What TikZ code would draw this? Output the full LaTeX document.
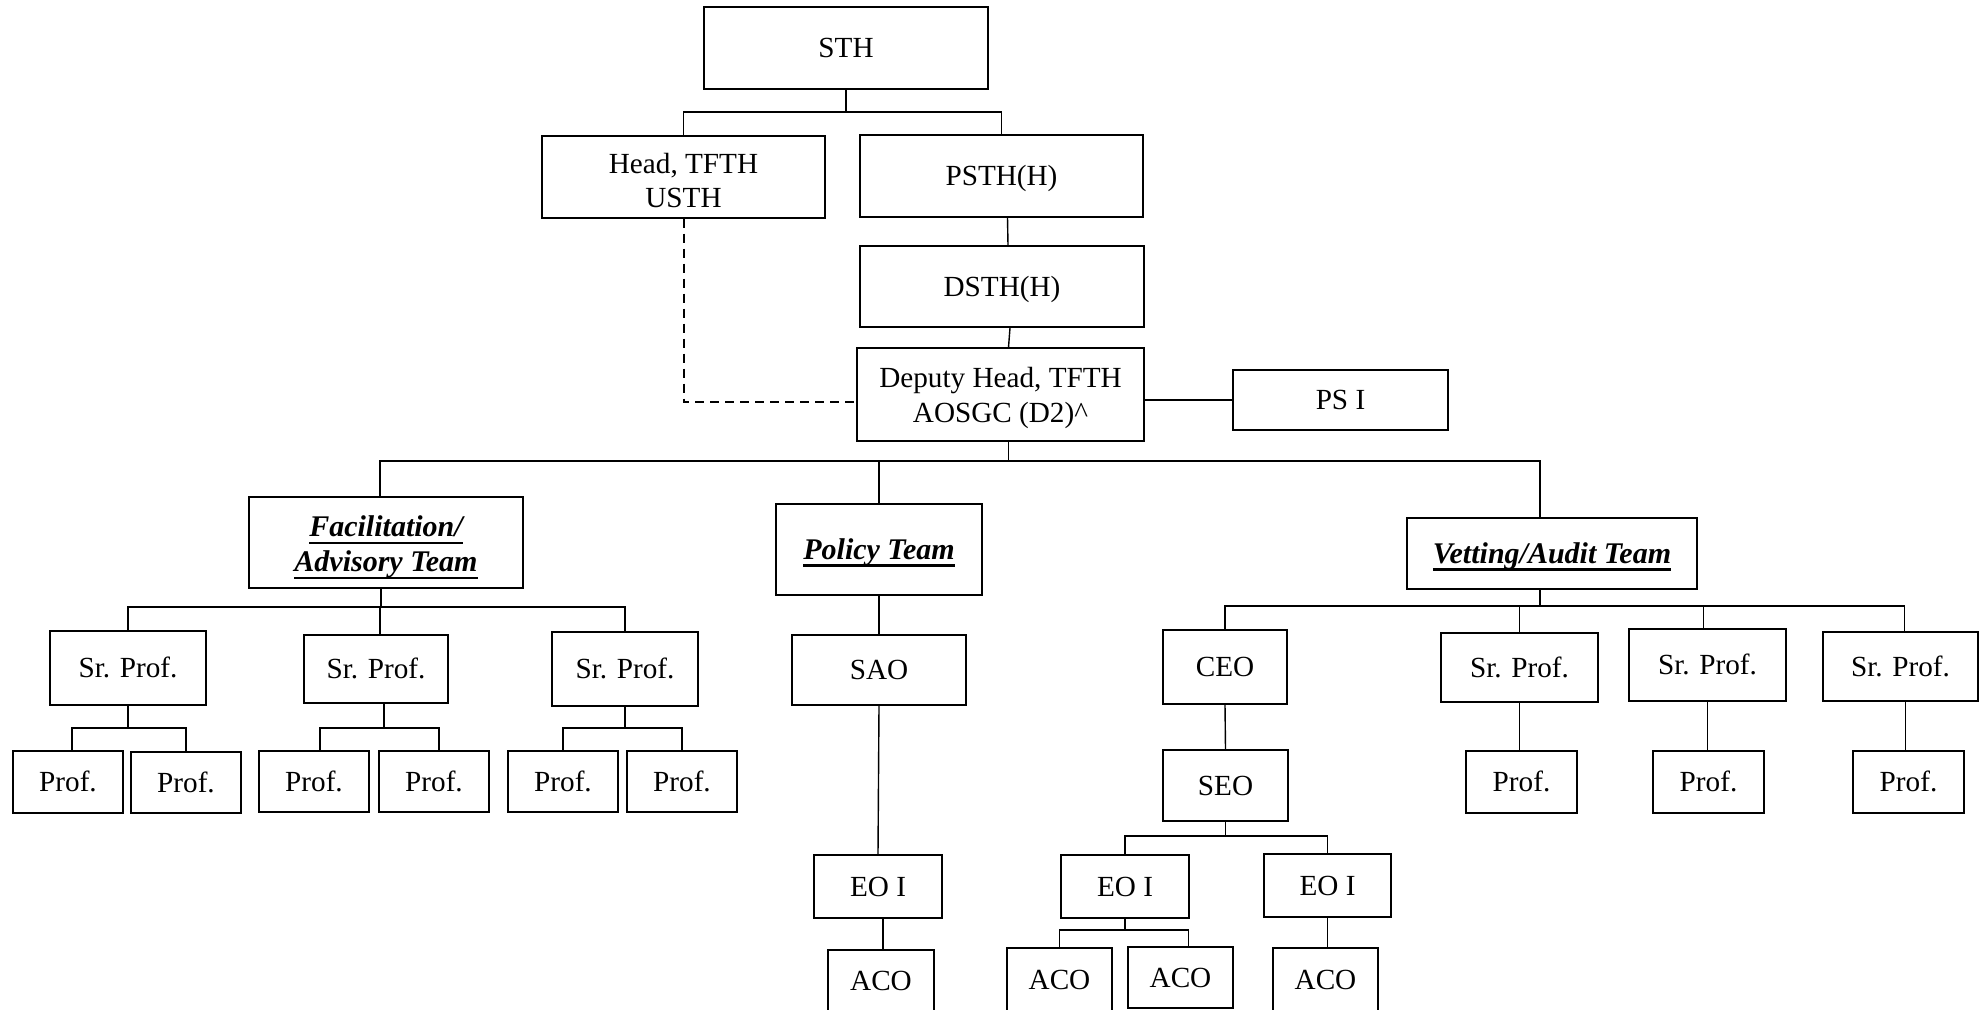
\documentclass[tikz,border=0pt]{standalone}
\usepackage{fontspec}
\setmainfont{Liberation Serif}
\newsavebox\tmphdbox
\newcommand\teamhd[1]{\sbox\tmphdbox{\bfseries\itshape #1}\rlap{\rule[-3.6pt]{\wd\tmphdbox}{1.1pt}}\usebox\tmphdbox}
\newcommand\twoln[3]{\vbox{\baselineskip=#1\lineskiplimit=-100pt\lineskip=0pt\halign{\hfil##\hfil\cr#2\cr#3\cr}}}
\newcommand\orgbox[7][]{\node[box,#1,minimum width={(#5-#3)*0.5pt},minimum height={(#6-#4)*0.5pt}] (#2) at ({(#3+#5)/2},{(#4+#6)/2}) {#7};}
\begin{document}
\begin{tikzpicture}[x=0.5pt,y=-0.5pt,line width=0.7pt,
  box/.style={draw,rectangle,line width=0.75pt,inner sep=0pt,text height=9.67pt,text depth=0pt,font=\fontsize{14.6}{17}\selectfont},
  hd/.style={font=\fontsize{15}{17.5}\selectfont,text height=9.93pt},
  link/.style={draw},
  dlink/.style={draw,line width=1pt,dash pattern=on 4.5pt off 3pt}]
\useasboundingbox (0,0) rectangle (1982,1010);
% top
\orgbox{sth}{704}{7}{988}{89}{STH}
\orgbox[text height=30.2pt]{head}{542}{136}{825}{218}{\twoln{16.9pt}{Head, TFTH}{USTH}}
\orgbox{psth}{860}{135}{1143}{217}{PSTH(H)}
\orgbox{dsth}{860}{246}{1144}{327}{DSTH(H)}
\orgbox[text height=27.7pt]{dep}{857}{348}{1144}{441}{\twoln{17.25pt}{Deputy Head, TFTH}{AOSGC (D2)\^{}}}
\orgbox{psi}{1233}{370}{1448}{430}{PS I}
% teams
\orgbox[hd,text height=29.4pt]{fac}{249}{497}{523}{588}{\twoln{17.5pt}{\teamhd{Facilitation/}}{\teamhd{Advisory Team}}}
\orgbox[hd]{pol}{776}{504}{982}{595}{\teamhd{Policy Team}}
\orgbox[hd]{vet}{1407}{518}{1697}{589}{\teamhd{Vetting/Audit Team}}
% facilitation
\orgbox{sp1}{50}{631}{206}{705}{Sr. Prof.}
\orgbox{sp2}{304}{635}{448}{703}{Sr. Prof.}
\orgbox{sp3}{552}{632}{698}{706}{Sr. Prof.}
\orgbox{p1}{13}{751}{123}{813}{Prof.}
\orgbox{p2}{131}{752}{241}{813}{Prof.}
\orgbox{p3}{259}{751}{369}{812}{Prof.}
\orgbox{p4}{379}{751}{489}{812}{Prof.}
\orgbox{p5}{508}{751}{618}{812}{Prof.}
\orgbox{p6}{627}{751}{737}{812}{Prof.}
% policy
\orgbox{sao}{792}{635}{966}{705}{SAO}
\orgbox{eo1}{814}{855}{942}{918}{EO I}
\orgbox{aco1}{828}{950}{934}{1011}{ACO}
% vetting
\orgbox{ceo}{1163}{630}{1287}{704}{CEO}
\orgbox{seo}{1163}{750}{1288}{821}{SEO}
\orgbox{eo2}{1061}{855}{1189}{918}{EO I}
\orgbox{eo3}{1264}{854}{1391}{917}{EO I}
\orgbox{aco2}{1007}{948}{1112}{1012}{ACO}
\orgbox{aco3}{1128}{947}{1233}{1008}{ACO}
\orgbox{aco4}{1273}{948}{1378}{1012}{ACO}
\orgbox{va}{1441}{633}{1598}{702}{Sr. Prof.}
\orgbox{vb}{1629}{629}{1786}{701}{Sr. Prof.}
\orgbox{vc}{1823}{632}{1978}{701}{Sr. Prof.}
\orgbox{pa}{1466}{751}{1577}{813}{Prof.}
\orgbox{pb}{1653}{751}{1764}{813}{Prof.}
\orgbox{pc}{1853}{751}{1964}{813}{Prof.}
% bus coordinates
\coordinate (b0) at (0,112);
\coordinate (b1) at (0,461);
\coordinate (bf) at (0,607);
\coordinate (bs) at (0,728);
\coordinate (bv) at (0,606);
\coordinate (bseo) at (0,836);
\coordinate (beo) at (0,930);
% connectors top
\draw[link] (sth.south) -- (sth.south |- b0) -| (head.north);
\draw[link] (sth.south |- b0) -| (psth.north);
\draw[link] ([xshift=3pt]psth.south) -- ([xshift=3pt]dsth.north);
\draw[link] ([xshift=4pt]dsth.south) -- ([xshift=4pt]dep.north);
\draw[link] (dep.east |- psi.west) -- (psi.west);
\draw[dlink] (head.south) |- ([yshift=-3.75pt]dep.west);
% main bus
\draw[link] ([xshift=4pt]dep.south) -- ([xshift=4pt]dep.south |- b1);
\draw[link] ([xshift=-3pt]fac.north) |- ([xshift=-6pt]vet.north |- b1) -- ([xshift=-6pt]vet.north);
\draw[link] (pol.north) -- (pol.north |- b1);
% facilitation
\draw[link] ([xshift=-2.5pt]fac.south) -- ([xshift=-2.5pt]fac.south |- bf);
\draw[link] (sp1.north) |- (sp3.north |- bf) -- (sp3.north);
\draw[link] ([xshift=2pt]sp2.north) -- ([xshift=2pt]sp2.north |- bf);
\draw[link] (sp1.south) -- (sp1.south |- bs);
\draw[link] ([xshift=2pt]p1.north) |- (p2.north |- bs) -- (p2.north);
\draw[link] ([xshift=4pt]sp2.south) -- ([xshift=4pt]sp2.south |- bs);
\draw[link] ([xshift=3pt]p3.north) |- ([xshift=2.5pt]p4.north |- bs) -- ([xshift=2.5pt]p4.north);
\draw[link] (sp3.south) -- (sp3.south |- bs);
\draw[link] (p5.north) |- (p6.north |- bs) -- (p6.north);
% policy
\draw[link] (pol.south) -- (sao.north);
\draw[link] (sao.south) -- (eo1.north);
\draw[link] ([xshift=2.5pt]eo1.south) -- ([xshift=2.5pt]eo1.south |- aco1.north);
% vetting
\draw[link] ([xshift=-6pt]vet.south) -- ([xshift=-6pt]vet.south |- bv);
\draw[link] (ceo.north) |- ([xshift=2pt]vc.north |- bv) -- ([xshift=2pt]vc.north);
\draw[link] (va.north) -- (va.north |- bv);
\draw[link] ([xshift=-2pt]vb.north) -- ([xshift=-2pt]vb.north |- bv);
\draw[link] (ceo.south) -- (seo.north);
\draw[link] (seo.south) -- (seo.south |- bseo);
\draw[link] (eo2.north) |- (eo3.north |- bseo) -- (eo3.north);
\draw[link] (eo2.south) -- (eo2.south |- beo);
\draw[link] (aco2.north) |- ([xshift=4pt]aco3.north |- beo) -- ([xshift=4pt]aco3.north);
\draw[link] (eo3.south) -- (eo3.south |- aco4.north);
\draw[link] (va.south) -- (va.south |- pa.north);
\draw[link] (vb.south) -- (vb.south |- pb.north);
\draw[link] ([xshift=2.5pt]vc.south) -- ([xshift=2.5pt]vc.south |- pc.north);
\end{tikzpicture}
\end{document}
